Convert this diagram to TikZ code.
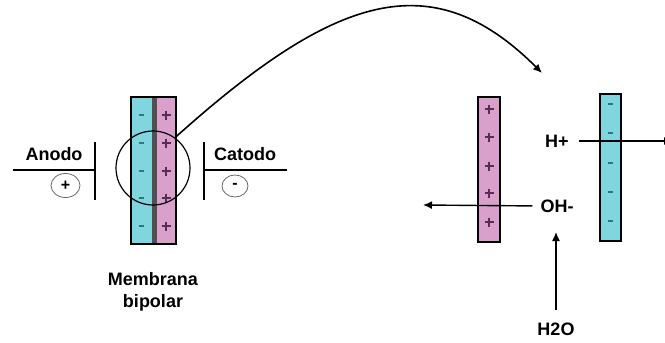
\documentclass[tikz,border=0pt]{standalone}
\usepackage{fontspec}
\setmainfont{Liberation Sans}
\usetikzlibrary{arrows.meta,positioning,shapes.geometric}

\definecolor{memcyan}{RGB}{128,213,222}
\definecolor{mempink}{RGB}{216,160,203}
\definecolor{signcyan}{RGB}{45,120,128}
\definecolor{signpink}{RGB}{85,45,85}
\definecolor{stripe}{RGB}{80,80,80}

\tikzset{
  lbl/.style={font=\bfseries\fontsize{18}{21}\selectfont,inner sep=0pt},
  flow/.style={line width=1.4pt,-{Latex[length=9pt,width=8pt]}},
  plate/.style={line width=1.6pt},
  pole/.style={ellipse,draw=black!60,line width=0.8pt,inner sep=0pt,
    font=\bfseries\fontsize{16}{16}\selectfont},
  bar/.style={draw=black,line width=1.8pt,inner sep=0pt,minimum width=#1},
  minus/.style={line width=1.6pt,draw=signcyan},
  plus/.style={line width=1.4pt,draw=signpink},
}

\begin{document}
\begin{tikzpicture}[x=1pt,y=-1pt]
  \useasboundingbox (0,0) rectangle (665,343);

  % bipolar membrane
  \fill[memcyan] (131,97) rectangle (152,244);
  \fill[stripe] (152,97) rectangle (157,244);
  \fill[mempink] (157,97) rectangle (176,244);
  \node[bar=45pt,minimum height=147pt] (mem) at (153.5,170.5) {};
  \foreach \y in {115,143,171,198,226} {
    \draw[minus] (138.5,\y) -- (143.5,\y);
    \draw[plus] (161.5,\y) -- (170.5,\y) (166,\y-4.5) -- (166,\y+4.5);
  }
  \node[draw,circle,line width=1.2pt,minimum size=74pt] (zoom) at (153,168) {};
  \node[lbl,align=center] (membrana) at (153,292) {Membrana\\[1pt]bipolar};

  % electrodes
  \draw[plate] (13,170) -- (95,170) (95,142) -- (95,200);
  \draw[plate] (287,170) -- (204,170) (204,142) -- (204,200);
  \node[lbl] (anodo) at (54,154) {Anodo};
  \node[lbl] (catodo) at (245,154) {Catodo};
  \node[pole,minimum width=29pt,minimum height=24pt] (pos) at (65.5,185.5) {+};
  \node[pole,minimum width=26pt,minimum height=22pt] (neg) at (235,186) {-};

  % enlarged view
  \fill[mempink] (478,97) rectangle (500,242);
  \node[bar=22pt,minimum height=145pt] (pinkbar) at (489,169.5) {};
  \foreach \y in {109,137,166,193,222}
    \draw[plus] (484.5,\y) -- (493.5,\y) (489,\y-4.5) -- (489,\y+4.5);
  \fill[memcyan] (600,94) rectangle (621,241);
  \node[bar=21pt,minimum height=147pt] (cyanbar) at (610.5,167.5) {};
  \foreach \y in {104,133,163,192,221}
    \draw[minus] (607.5,\y) -- (612.5,\y);

  \node[lbl] (hplus) at (557,141) {H+};
  \node[lbl] (ohminus) at (557,206) {OH-};
  \node[lbl] (water) at (556,329) {H2O};
  \coordinate (hplusend) at (673,141);
  \coordinate (ohend) at (423,205);
  \coordinate (waterend) at (556,232);
  \coordinate (arcend) at (542,73);

  \draw[flow,shorten <=10pt] (hplus.east) -- (hplusend);
  \draw[flow,shorten <=8pt] (ohminus.west) -- (ohend);
  \draw[flow,shorten <=12pt] (water.north) -- (waterend);
  \draw[flow,line width=1.6pt] (zoom.54) .. controls (335,-6) and (432,-37) .. (arcend);
\end{tikzpicture}
\end{document}
